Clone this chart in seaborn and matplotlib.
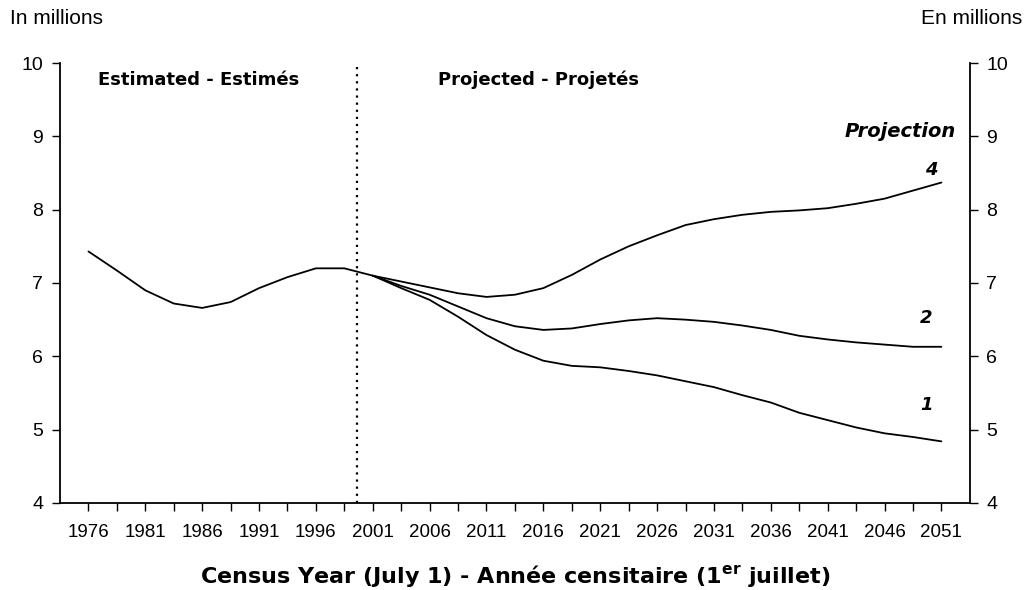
import numpy as np
import pandas as pd
import matplotlib
matplotlib.use("Agg")
import matplotlib.pyplot as plt
import seaborn as sns

# Estimated population (millions), every 2.5 years
years_est = [1976, 1978.5, 1981, 1983.5, 1986, 1988.5, 1991, 1993.5, 1996, 1998.5, 2001]
est = [7.43, 7.17, 6.90, 6.72, 6.66, 6.74, 6.93, 7.08, 7.20, 7.20, 7.10]

# Projections 1, 2 and 4
years_proj = [2001, 2003.5, 2006, 2008.5, 2011, 2013.5, 2016, 2018.5, 2021, 2023.5, 2026,
              2028.5, 2031, 2033.5, 2036, 2038.5, 2041, 2043.5, 2046, 2048.5, 2051]
proj1 = [7.10, 6.93, 6.77, 6.54, 6.29, 6.09, 5.94, 5.87, 5.85, 5.80, 5.74,
         5.66, 5.58, 5.47, 5.37, 5.23, 5.13, 5.03, 4.95, 4.90, 4.84]
proj2 = [7.10, 6.96, 6.84, 6.68, 6.52, 6.41, 6.36, 6.38, 6.44, 6.49, 6.52,
         6.50, 6.47, 6.42, 6.36, 6.28, 6.23, 6.19, 6.16, 6.13, 6.13]
proj4 = [7.10, 7.02, 6.94, 6.86, 6.81, 6.84, 6.93, 7.11, 7.32, 7.50, 7.65,
         7.79, 7.87, 7.93, 7.97, 7.99, 8.02, 8.08, 8.15, 8.26, 8.37]

year_labels = list(range(1976, 2052, 5))
split_year = 1999.6

df = pd.concat([
    pd.DataFrame({"year": years_est, "value": est, "series": "est"}),
    pd.DataFrame({"year": years_proj, "value": proj1, "series": "1"}),
    pd.DataFrame({"year": years_proj, "value": proj2, "series": "2"}),
    pd.DataFrame({"year": years_proj, "value": proj4, "series": "4"}),
])

sns.set_style("ticks")
plt.rcParams["font.family"] = ["Liberation Sans", "DejaVu Sans"]
plt.rcParams["text.color"] = "black"
plt.rcParams["xtick.color"] = "black"
plt.rcParams["ytick.color"] = "black"
plt.rcParams["axes.labelcolor"] = "black"
plt.rcParams["mathtext.fontset"] = "custom"
plt.rcParams["mathtext.rm"] = "DejaVu Sans"
plt.rcParams["mathtext.bf"] = "DejaVu Sans:bold"

wide = ["DejaVu Sans"]

fig = plt.figure(figsize=(10.28, 5.90), dpi=100)
ax = fig.add_axes([0.0584, 0.1475, 0.885, 0.7457])

sns.lineplot(
    data=df, x="year", y="value", hue="series",
    palette={"est": "black", "1": "black", "2": "black", "4": "black"},
    linewidth=1.3, legend=False, ax=ax, sort=False
)

ax.axvline(split_year, color="black", linestyle=(0, (1, 2.2)), linewidth=1.6)

ax.set_xlim(1973.5, 2053.5)
ax.set_ylim(4, 10)
ax.set_xticks(year_labels)
ax.set_xticklabels([str(y) for y in year_labels])
ax.set_xticks([y + 2.5 for y in year_labels[:-1]], minor=True)
ax.set_yticks(range(4, 11))
ax.tick_params(axis="both", which="both", direction="out", length=6, width=1,
               labelsize=14, pad=6)
ax.tick_params(axis="x", labelsize=13.5, pad=9)
ax.set_xlabel("Census Year (July 1) - Année censitaire (1$^{\\bf er}$ juillet)",
              fontsize=16, fontweight="bold", family=wide, labelpad=16)
ax.set_ylabel("")

ax2 = ax.twinx()
ax2.set_ylim(4, 10)
ax2.set_yticks(range(4, 11))
ax2.tick_params(axis="y", direction="out", length=6, width=1, labelsize=14, pad=6)

for a in (ax, ax2):
    a.spines["top"].set_visible(False)
    for s in ("left", "right", "bottom"):
        a.spines[s].set_color("black")
        a.spines[s].set_linewidth(1.3)
ax.spines["right"].set_visible(False)
ax2.spines["left"].set_visible(False)
ax2.spines["bottom"].set_visible(False)

ax.text(1985.7, 9.77, "Estimated - Estimés", ha="center", va="center",
        fontsize=13, fontweight="bold", family=wide)
ax.text(2015.6, 9.77, "Projected - Projetés", ha="center", va="center",
        fontsize=13, fontweight="bold", family=wide)
ax.text(2047.4, 9.07, "Projection", ha="center", va="center",
        fontsize=14, fontweight="bold", fontstyle="italic", family=wide)
ax.text(2050.1, 8.54, "4", ha="center", va="center", fontsize=13,
        fontweight="bold", fontstyle="italic", family=wide)
ax.text(2049.7, 6.52, "2", ha="center", va="center", fontsize=13,
        fontweight="bold", fontstyle="italic", family=wide)
ax.text(2049.7, 5.33, "1", ha="center", va="center", fontsize=13,
        fontweight="bold", fontstyle="italic", family=wide)

fig.text(10 / 1028, 1 - 18 / 590, "In millions", ha="left", va="center", fontsize=15)
fig.text(1022 / 1028, 1 - 18 / 590, "En millions", ha="right", va="center", fontsize=15)

fig.savefig("out.png", dpi=100)
